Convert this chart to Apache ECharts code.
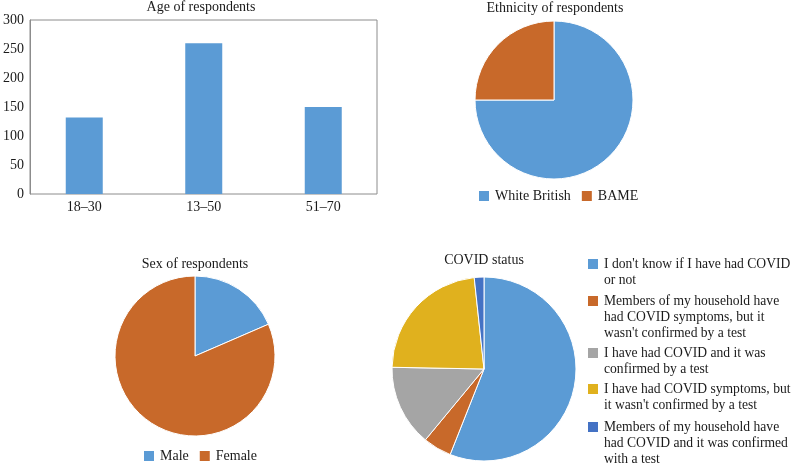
<!DOCTYPE html>
<html><head><meta charset="utf-8">
<script src="https://cdn.jsdelivr.net/npm/echarts@6/dist/echarts.min.js"></script>
<style>html,body{margin:0;padding:0;background:#fff}#c{width:793px;height:468px}</style>
</head><body><div id="c"></div>
<script>
const ageCategories = ['18–30', '13–50', '51–70'];
const ageValues = [132, 260, 150];
const ageTicks = [0, 50, 100, 150, 200, 250, 300];

const ethnicityNames = ['White British', 'BAME'];
const ethnicityValues = [75, 25];

const sexNames = ['Male', 'Female'];
const sexValues = [18.5, 81.5];

const covidNames = [
  "I don't know if I have had COVID or not",
  "Members of my household have had COVID symptoms, but it wasn't confirmed by a test",
  "I have had COVID and it was confirmed by a test",
  "I have had COVID symptoms, but it wasn't confirmed by a test",
  "Members of my household have had COVID and it was confirmed with a test"
];
const covidLegendLines = [
  ["I don't know if I have had COVID", "or not"],
  ["Members of my household have", "had COVID symptoms, but it", "wasn't confirmed by a test"],
  ["I have had COVID and it was", "confirmed by a test"],
  ["I have had COVID symptoms, but", "it wasn't confirmed by a test"],
  ["Members of my household have", "had COVID and it was confirmed", "with a test"]
];
const covidValues = [56, 5, 14.3, 23, 1.7];

const FONT = 'Liberation Serif';
const BLUE = '#5B9BD5', ORANGE = '#C8692A', GRAY = '#A5A5A5', YELLOW = '#E0B11E', DBLUE = '#4472C4';
const TXT = '#1a1a1a';
const FRAME = '#8c8c8c';

const chart = echarts.init(document.getElementById('c'), null, {renderer: 'canvas'});

const titleStyle = {fontFamily: FONT, fontSize: 14, fontWeight: 'normal', color: TXT};
const LH = 16;
const ICON = 12;
const covidIconY = [264, 301, 353, 389, 427];
const covidLegends = covidNames.map((n, i) => {
  const lines = covidLegendLines[i].length;
  return {
    orient: 'vertical', left: 586, top: covidIconY[i] - (2 * lines - 1) * LH / 2,
    padding: 0, itemWidth: ICON, itemHeight: ICON, selectedMode: false, icon: 'rect',
    data: [n],
    formatter: () => '\n'.repeat(lines - 1) + covidLegendLines[i].join('\n'),
    textStyle: {fontFamily: FONT, fontSize: 13.6, lineHeight: LH, color: TXT}
  };
});

chart.setOption({
  animation: false,
  title: [
    {text: 'Age of respondents', left: 201, top: 0, textAlign: 'center', padding: 0, textStyle: titleStyle},
    {text: 'Ethnicity of respondents', left: 555, top: 1, textAlign: 'center', padding: 0, textStyle: titleStyle},
    {text: 'Sex of respondents', left: 195, top: 257, textAlign: 'center', padding: 0, textStyle: titleStyle},
    {text: 'COVID status', left: 484, top: 253, textAlign: 'center', padding: 0, textStyle: titleStyle}
  ],
  grid: [
    {left: 25, top: 20, width: 352, height: 174, show: true, borderColor: FRAME, borderWidth: 1, backgroundColor: 'transparent'},
    {left: 24.5, top: 20, width: 358.5, height: 174, show: false}
  ],
  xAxis: [
    {gridIndex: 0, type: 'category', data: ageCategories, show: false},
    {gridIndex: 1, type: 'category', data: ageCategories,
     axisLine: {show: false}, axisTick: {show: false},
     axisLabel: {fontFamily: FONT, fontSize: 14, color: TXT, margin: 6}}
  ],
  yAxis: [
    {gridIndex: 0, type: 'value', min: ageTicks[0], max: ageTicks[ageTicks.length - 1], interval: 50,
     splitLine: {show: false}, axisLine: {show: true, lineStyle: {color: FRAME}}, axisTick: {show: false},
     axisLabel: {fontFamily: FONT, fontSize: 14, color: TXT, margin: 6}},
    {gridIndex: 1, type: 'value', min: ageTicks[0], max: ageTicks[ageTicks.length - 1], interval: 50, show: false}
  ],
  legend: [
    {left: 477, top: 189, padding: 0, itemWidth: ICON, itemHeight: ICON, itemGap: 9, icon: 'rect', selectedMode: false,
     data: ethnicityNames, textStyle: {fontFamily: FONT, fontSize: 14, color: TXT}},
    {left: 142, top: 449, padding: 0, itemWidth: ICON, itemHeight: ICON, itemGap: 9, icon: 'rect', selectedMode: false,
     data: sexNames, textStyle: {fontFamily: FONT, fontSize: 14, color: TXT}}
  ].concat(covidLegends),
  series: [
    {type: 'bar', xAxisIndex: 1, yAxisIndex: 1, data: ageValues, barWidth: 37, itemStyle: {color: BLUE}},
    {type: 'pie', center: [554, 100], radius: 79, label: {show: false}, labelLine: {show: false},
     itemStyle: {borderColor: '#fff', borderWidth: 1}, emphasis: {disabled: true},
     data: ethnicityNames.map((n, i) => ({name: n, value: ethnicityValues[i], itemStyle: {color: [BLUE, ORANGE][i]}}))},
    {type: 'pie', center: [195, 356], radius: 80, label: {show: false}, labelLine: {show: false},
     itemStyle: {borderColor: '#fff', borderWidth: 1}, emphasis: {disabled: true},
     data: sexNames.map((n, i) => ({name: n, value: sexValues[i], itemStyle: {color: [BLUE, ORANGE][i]}}))},
    {type: 'pie', center: [484, 369], radius: 92, label: {show: false}, labelLine: {show: false},
     itemStyle: {borderColor: '#fff', borderWidth: 1}, emphasis: {disabled: true},
     data: covidNames.map((n, i) => ({name: n, value: covidValues[i], itemStyle: {color: [BLUE, ORANGE, GRAY, YELLOW, DBLUE][i]}}))}
  ]
});
</script></body></html>
